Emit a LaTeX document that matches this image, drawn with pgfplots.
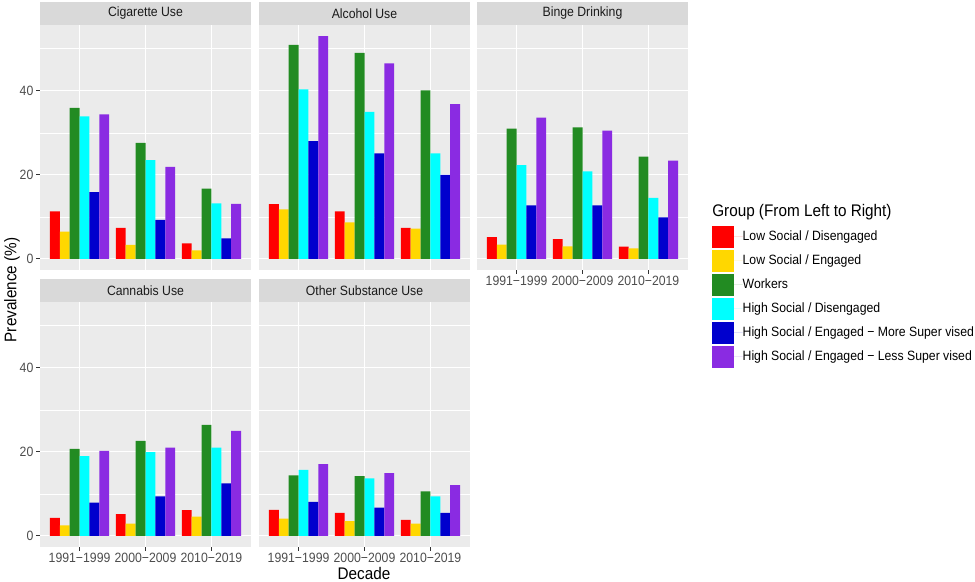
\documentclass[border=0pt]{standalone}
\usepackage{fontspec}
\setmainfont{Liberation Sans}[FakeStretch=0.91]
\usepackage{pgfplots}
\usepackage{pgfplotstable}
\pgfplotsset{compat=1.18}

\definecolor{cRed}{HTML}{FF0000}
\definecolor{cGold}{HTML}{FFD700}
\definecolor{cGreen}{HTML}{228B22}
\definecolor{cCyan}{HTML}{00FFFF}
\definecolor{cBlue}{HTML}{0000CD}
\definecolor{cViolet}{HTML}{8A2BE2}
\definecolor{panelbg}{HTML}{EBEBEB}
\definecolor{stripbg}{HTML}{D9D9D9}
\definecolor{gray30}{HTML}{4D4D4D}
\definecolor{gray20}{HTML}{333333}
\definecolor{gray10}{HTML}{1A1A1A}

\newcommand\tickfont{\fontsize{10.1}{12}\selectfont}
\newcommand\titlefont{\fontsize{12.6}{15}\selectfont}

\pgfplotstableread{
x r y g c b p
1 11.3 6.5 35.9 33.9 15.9 34.4
2 7.4 3.3 27.6 23.5 9.3 21.9
3 3.7 2.0 16.7 13.2 4.9 13.1
}\cig
\pgfplotstableread{
x r y g c b p
1 13.0 11.8 50.9 40.3 28.0 53.0
2 11.3 8.7 49.0 35.0 25.1 46.5
3 7.4 7.2 40.1 25.1 20.0 36.8
}\alc
\pgfplotstableread{
x r y g c b p
1 5.2 3.4 31.0 22.3 12.7 33.6
2 4.7 3.0 31.3 20.8 12.7 30.5
3 2.9 2.5 24.3 14.5 9.9 23.4
}\binge
\pgfplotstableread{
x r y g c b p
1 4.3 2.5 20.7 19.0 7.9 20.2
2 5.2 2.9 22.6 19.9 9.4 21.0
3 6.1 4.6 26.4 21.0 12.5 25.0
}\can
\pgfplotstableread{
x r y g c b p
1 6.2 4.1 14.4 15.7 8.1 17.1
2 5.5 3.5 14.2 13.7 6.7 14.9
3 3.8 2.9 10.6 9.4 5.5 12.1
}\oth

\pgfplotsset{
  sqlegend/.style={legend image code/.code={\fill[##1] (0pt,-8.25pt) rectangle (16.5pt,8.25pt); \path (0pt,0pt) -- (23pt,0pt);}},
  panel/.style={
    scale only axis, width=158.25pt, height=183.75pt,
    xmin=0.4, xmax=3.6, ymin=-2.65, ymax=55.65,
    axis background/.style={fill=panelbg},
    axis line style={draw=none},
    xtick={1,2,3}, ytick={0,20,40}, minor ytick={10,30,50},
    grid=both,
    major grid style={white, line width=0.8pt},
    minor grid style={white, line width=0.4pt},
    tick align=outside, major tick length=2.8pt, minor tick length=0pt,
    tick style={gray20, line width=0.6pt},
    xtick pos=bottom, ytick pos=left,
    tick label style={font=\tickfont, text=gray30},
    /pgf/number format/assume math mode=true,
    yticklabel style={inner sep=1pt, xshift=-1pt},
    xticklabel style={inner sep=1.5pt},
    xticklabels={1991−1999,2000−2009,2010−2019},
  },
  noxt/.style={xticklabels={}, xtick style={draw=none}},
  noyt/.style={yticklabels={}, ytick style={draw=none}},
}

\newcommand\bars[1]{%
\addplot[ybar, bar width=0.15, fill=cRed, draw=none, sqlegend] table[x expr=\thisrow{x}-0.375, y=r]{#1};
\addplot[ybar, bar width=0.15, fill=cGold, draw=none, sqlegend] table[x expr=\thisrow{x}-0.225, y=y]{#1};
\addplot[ybar, bar width=0.15, fill=cGreen, draw=none, sqlegend] table[x expr=\thisrow{x}-0.075, y=g]{#1};
\addplot[ybar, bar width=0.15, fill=cCyan, draw=none, sqlegend] table[x expr=\thisrow{x}+0.075, y=c]{#1};
\addplot[ybar, bar width=0.15, fill=cBlue, draw=none, sqlegend] table[x expr=\thisrow{x}+0.225, y=b]{#1};
\addplot[ybar, bar width=0.15, fill=cViolet, draw=none, sqlegend] table[x expr=\thisrow{x}+0.375, y=p]{#1};
}

\begin{document}
\begin{tikzpicture}
\path[use as bounding box] (0,0) rectangle (731.25pt,436.5pt);

\begin{axis}[panel, noxt, at={(30pt,234pt)}, anchor=south west]
\bars{\cig}
\end{axis}
\begin{axis}[panel, noxt, noyt, at={(194.25pt,234pt)}, anchor=south west]
\bars{\alc}
\end{axis}
\begin{axis}[panel, noyt, at={(357.75pt,234pt)}, anchor=south west,
  legend entries={Low Social / Disengaged, Low Social / Engaged, Workers, High Social / Disengaged, High Social / Engaged − More Super vised, High Social / Engaged − Less Super vised},
  legend style={at={(1.1137,0.1796)}, anchor=north west, draw=none, fill=none,
    inner sep=0pt, outer sep=0pt, row sep=1.5pt, font=\tickfont, text=black,
    nodes={inner sep=0pt, anchor=west}},
  legend cell align=left]
\bars{\binge}
\end{axis}
\begin{axis}[panel, at={(30pt,26.25pt)}, anchor=south west]
\bars{\can}
\end{axis}
\begin{axis}[panel, noyt, at={(194.25pt,26.25pt)}, anchor=south west]
\bars{\oth}
\end{axis}

% strips
\foreach \xx/\yy/\lab in {30/417.75/Cigarette Use, 194.25/417.75/Alcohol Use, 357.75/417.75/Binge Drinking, 30/210/Cannabis Use, 194.25/210/Other Substance Use}{
  \fill[stripbg] (\xx pt,\yy pt) rectangle ++(158.25pt,17.25pt);
  \node[text=gray10, font=\tickfont, inner sep=0pt] at ([shift={(79.125pt,8.625pt)}]\xx pt,\yy pt) {\lab};
}

\node[font=\titlefont, rotate=90] at (9pt,219pt) {Prevalence (\%)};
\node[font=\titlefont] at (273pt,6.75pt) {Decade};
\node[font=\titlefont, anchor=west, inner sep=0pt] at (534pt,277.5pt) {Group (From Left to Right)};
\end{tikzpicture}
\end{document}
